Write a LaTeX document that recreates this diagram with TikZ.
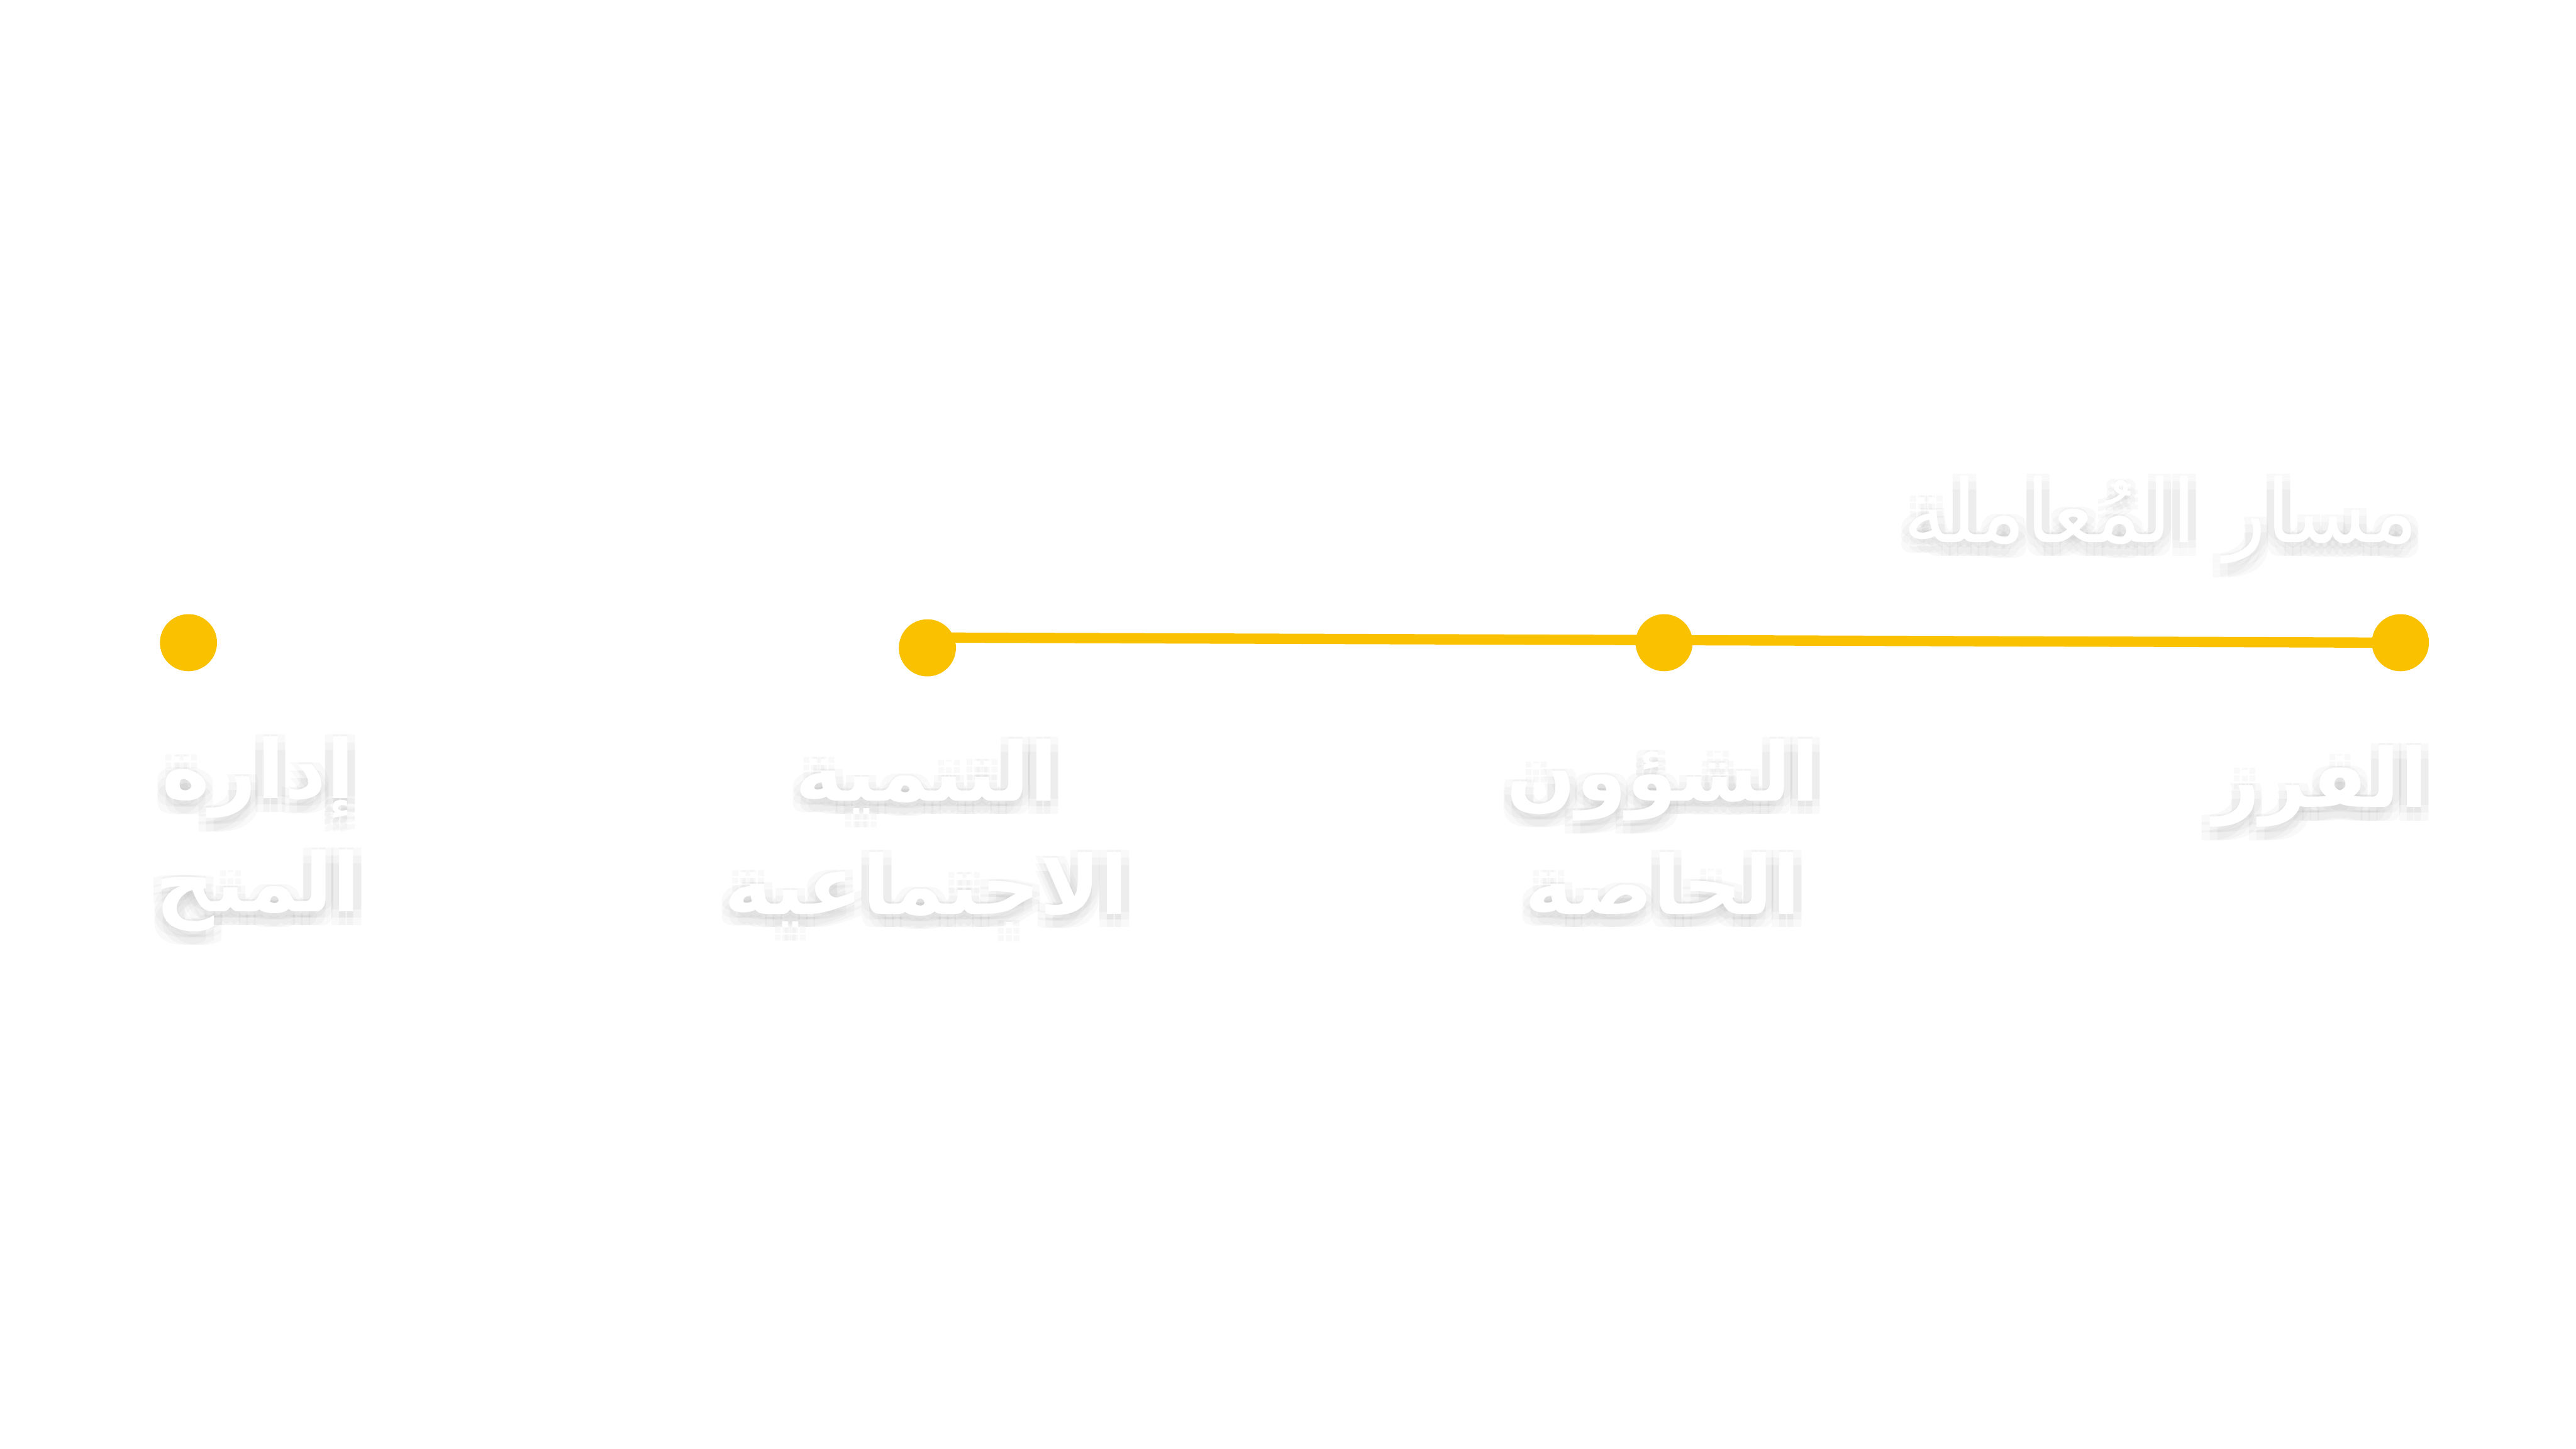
\documentclass[tikz,border=0pt]{standalone}
\usepackage{fontspec}
\usepackage{xcolor}
\newfontfamily\arabicfont[Script=Arabic]{DejaVu Sans}
\TeXXeTstate=1
\usetikzlibrary{positioning, calc, backgrounds}

\definecolor{stepyellow}{HTML}{FAC100}

\tikzset{
    stage dot/.style={circle, fill=stepyellow, inner sep=0pt, minimum size=13.3mm},
    track/.style={stepyellow, line width=2.4mm},
    stage text/.style={text=white, inner sep=0pt, align=center, font=\arabicfont\bfseries\fontsize{54}{75}\selectfont},
    title text/.style={text=white, inner sep=0pt, font=\arabicfont\fontsize{58}{70}\selectfont},
    soft shadow/.style={text=black, text opacity=0.022}
}

% white text with a blurred grey shadow under it
\newcommand{\shadowed}[4]{%
    \foreach \sx in {-1,0,1}{\foreach \sy in {-1,0,1}{
        \node[#2, soft shadow, xshift=\sx*1.8mm, yshift=\sy*1.8mm-1.4mm] at (#3) {#4};}}
    \node[#2] (#1) at (#3) {#4};
}

\begin{document}
\begin{tikzpicture}
    \useasboundingbox (0,0) rectangle (60,33.75);

    % the four stages, right to left
    \node[stage dot] (sorting) at (55.91,18.78) {};
    \node[stage dot] (affairs) at (38.76,18.78) {};
    \node[stage dot] (social) at (21.60,18.66) {};
    \node[stage dot] (grants) at (4.39,18.78) {};

    \begin{scope}[on background layer]
        \draw[track] ([yshift=2.4mm]social.center) -- (sorting.center);
    \end{scope}

    \shadowed{title}{title text, anchor=base east}{56.33,21.12}{\beginR مسار المُعاملة\endR}

    \shadowed{sortingtext}{stage text, anchor=base east}{56.56,14.95}{\beginR الفرز\endR}
    \shadowed{affairstext}{stage text, anchor=north}{38.73,16.55}{\beginR الشؤون\endR\\\beginR الخاصة\endR}
    \shadowed{socialtext}{stage text, anchor=north}{21.58,16.55}{\beginR التنمية\endR\\\beginR الاجتماعية\endR}
    \shadowed{grantstext}{stage text, anchor=north}{6.01,16.60}{\beginR إدارة\endR\\\beginR المنح\endR}
\end{tikzpicture}
\end{document}
